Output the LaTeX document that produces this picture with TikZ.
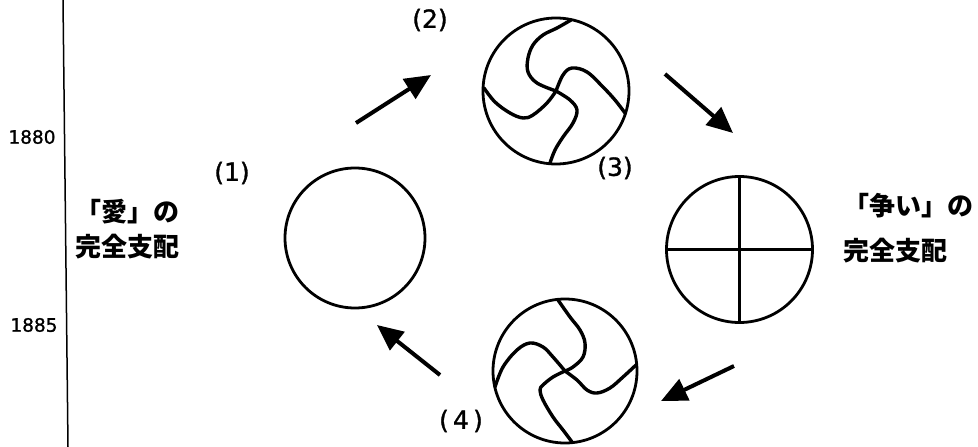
\documentclass[tikz,border=0pt]{standalone}
\usepackage{fontspec}
\setmainfont{DejaVu Sans}
\newfontfamily\medfont{DejaVu Sans}[BoldFont={DejaVu Sans},BoldFeatures={FakeBold=1.2}]
\newfontfamily\jp{Noto Sans CJK JP}
\usetikzlibrary{arrows.meta}
\begin{document}
\begin{tikzpicture}[x=1pt,y=1pt,
  ring/.style={circle,draw,line width=2.8pt,inner sep=0pt,minimum size=#1},
  arm/.style={line width=3.4pt,line cap=round,line join=round},
  bar/.style={line width=2.8pt},
  bigarrow/.style={line width=4pt,-{Triangle[length=26pt,width=23pt]}},
  num/.style={font=\medfont\bfseries\fontsize{25}{25}\selectfont,inner sep=0pt},
  year/.style={font=\medfont\bfseries\fontsize{18.5}{18.5}\selectfont,inner sep=0pt},
  jptext/.style={font=\jp\bfseries\fontsize{26}{26}\selectfont,inner sep=0pt,anchor=base west}]
\useasboundingbox (0,0) rectangle (978,-447);

% time axis
\coordinate (ltop) at (63,0);
\coordinate (lbot) at (68,-447);
\draw[line width=1.5pt] (ltop) -- (lbot);
\node[year] (y1880) at (32,-137) {1880};
\node[year] (y1885) at (34,-325) {1885};

% side texts
\node[jptext] (love1) at (75,-221) {「愛」の};
\node[jptext] (love2) at (75,-256) {完全支配};
\node[jptext] (strife1) at (843,-215) {「争い」の};
\node[jptext] (strife2) at (843,-260) {完全支配};

% circles
\node[ring=140pt] (c1) at (355,-238) {};
\node[ring=146pt] (c2) at (556,-91) {};
\node[ring=146pt] (c3) at (739.5,-249.5) {};
\node[ring=144pt] (c4) at (565,-371) {};

% cross in circle 3
\draw[bar] (c3.north) -- (c3.south);
\draw[bar] (c3.west) -- (c3.east);

% swirl in circle 2
\begin{scope}[shift={(c2.center)}]
  \draw[arm] plot[smooth,tension=0.6] coordinates {(0,0) (-19,8) (-28,19) (-28,33) (-23,46) (-13,56) (1,63) (15,71)};
  \draw[arm] plot[smooth,tension=0.6] coordinates {(0,0) (7,16) (16,23) (31,19) (47,4) (59,-9) (69,-22)};
  \draw[arm] plot[smooth,tension=0.6] coordinates {(0,0) (14,-9) (21,-19) (17,-32) (7,-46) (-1,-59) (-6,-72)};
  \draw[arm] plot[smooth,tension=0.6] coordinates {(0,0) (-9,-12) (-23,-24) (-33,-27) (-46,-22) (-61,-11) (-72,3)};
\end{scope}

% swirl in circle 4
\begin{scope}[shift={(c4.center)}]
  \draw[arm] plot[smooth,tension=0.6] coordinates {(0,0) (8,4) (18,14) (20,28) (15,41) (5,54) (-7,71)};
  \draw[arm] plot[smooth,tension=0.6] coordinates {(0,0) (12,-9) (22,-19) (32,-22) (45,-17) (58,-6) (71,6)};
  \draw[arm] plot[smooth,tension=0.6] coordinates {(0,0) (-12,14) (-22,24) (-35,28) (-48,21) (-62,4) (-70,-16)};
  \draw[arm] plot[smooth,tension=0.6] coordinates {(0,0) (-12,-6) (-22,-14) (-25,-19) (-22,-29) (-12,-46) (-2,-59) (7,-71)};
\end{scope}

% labels
\node[num] (l1) at (232,-173) {(1)};
\node[num] (l2) at (430,-20) {(2)};
\node[num] (l3) at (615,-168) {(3)};
\node[num] (l4) at (461,-421) {(\,4\,)};

% arrows
\coordinate (a1s) at (356,-123); \coordinate (a1e) at (431,-75);
\coordinate (a2s) at (665,-74);  \coordinate (a2e) at (733,-133);
\coordinate (a3s) at (734,-366); \coordinate (a3e) at (661,-401);
\coordinate (a4s) at (440,-375); \coordinate (a4e) at (377,-325);
\draw[bigarrow] (a1s) -- (a1e);
\draw[bigarrow] (a2s) -- (a2e);
\draw[bigarrow] (a3s) -- (a3e);
\draw[bigarrow] (a4s) -- (a4e);
\end{tikzpicture}
\end{document}
